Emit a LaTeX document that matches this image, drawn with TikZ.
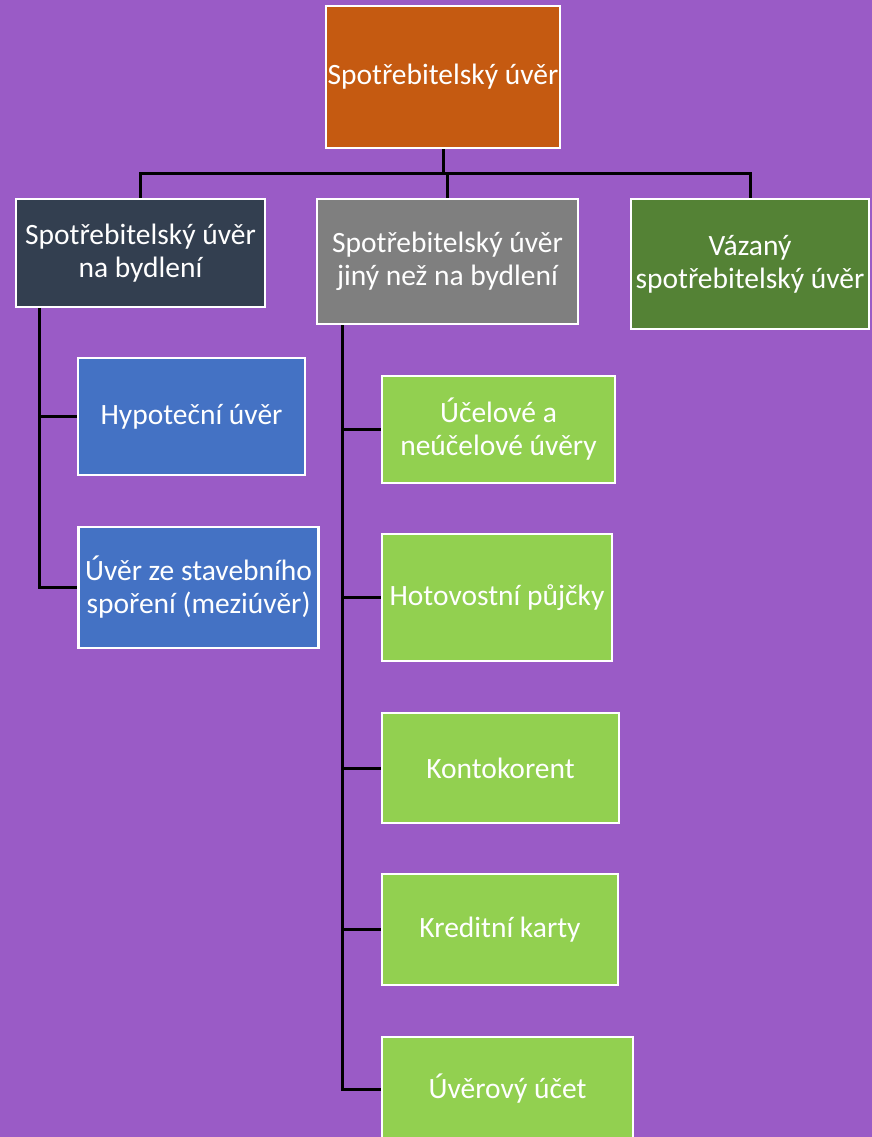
\documentclass[tikz,border=0pt]{standalone}
\usepackage{fontspec}
\setmainfont{Carlito}
\definecolor{bgpurple}{HTML}{9A5BC6}
\definecolor{rootorange}{HTML}{C55A11}
\definecolor{navy}{HTML}{333F50}
\definecolor{midgray}{HTML}{7F7F7F}
\definecolor{darkgreen}{HTML}{548235}
\definecolor{midblue}{HTML}{4472C4}
\definecolor{lightgreen}{HTML}{92D050}
\begin{document}
\begin{tikzpicture}[x=1pt,y=-1pt,
  box/.style={draw=white, line width=2.5pt, text=white, align=center, inner sep=0pt,
    font=\fontsize{29.5}{33}\selectfont},
  conn/.style={draw=black, line width=3pt}]
\useasboundingbox (0,0) rectangle (872,1137);
\fill[bgpurple] (0,0) rectangle (872,1137);
% root
\node[box, fill=rootorange, minimum width=234pt, minimum height=142pt] (root) at (443,77) {Spotřebitelský úvěr};
% level 1
\node[box, fill=navy, minimum width=249pt, minimum height=108pt] (c1) at (140.5,253) {Spotřebitelský úvěr\\na bydlení};
\node[box, fill=midgray, minimum width=261pt, minimum height=125pt] (c2) at (447.5,261.5) {Spotřebitelský úvěr\\jiný než na bydlení};
\node[box, fill=darkgreen, minimum width=238pt, minimum height=130pt] (c3) at (750,264) {Vázaný\\spotřebitelský úvěr};
% left branch
\node[box, fill=midblue, minimum width=227pt, minimum height=117pt] (hyp) at (191.5,416.5) {Hypoteční úvěr};
\node[box, fill=midblue, minimum width=240pt, minimum height=121pt] (stav) at (198.5,587.5) {Úvěr ze stavebního\\spoření (meziúvěr)};
% middle branch
\node[box, fill=lightgreen, minimum width=233pt, minimum height=107pt] (uc) at (498.5,429.5) {Účelové a\\neúčelové úvěry};
\node[box, fill=lightgreen, minimum width=230pt, minimum height=127pt] (hot) at (497,597.5) {Hotovostní půjčky};
\node[box, fill=lightgreen, minimum width=237pt, minimum height=110pt] (kon) at (500.5,768) {Kontokorent};
\node[box, fill=lightgreen, minimum width=236pt, minimum height=111pt] (kre) at (500,929.5) {Kreditní karty};
\node[box, fill=lightgreen, minimum width=251pt, minimum height=104pt] (uv) at (507.5,1089) {Úvěrový účet};
% connectors
\coordinate (bus) at (443,173);
\draw[conn] (root.south) -- (bus);
\draw[conn] (c1.north) -- (c1.north |- bus) -- (c3.north |- bus) -- (c3.north);
\draw[conn] (c2.north) -- (c2.north |- bus);
\coordinate (lspine) at ([xshift=25pt]c1.south west);
\draw[conn] (lspine) |- (hyp.west);
\draw[conn] (lspine) |- (stav.west);
\coordinate (mspine) at ([xshift=27pt]c2.south west);
\draw[conn] (mspine) |- (uc.west);
\draw[conn] (mspine) |- (hot.west);
\draw[conn] (mspine) |- (kon.west);
\draw[conn] (mspine) |- (kre.west);
\draw[conn] (mspine) |- (uv.west);
\end{tikzpicture}
\end{document}
